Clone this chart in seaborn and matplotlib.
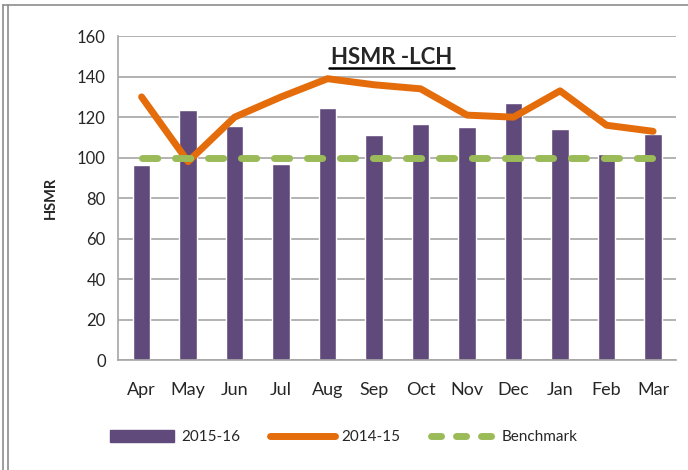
import numpy as np
import pandas as pd
import matplotlib
matplotlib.use("Agg")
import matplotlib.pyplot as plt
import seaborn as sns
from matplotlib.patches import Patch
from matplotlib.lines import Line2D

# VERI #
months = ["Apr", "May", "Jun", "Jul", "Aug", "Sep", "Oct", "Nov", "Dec", "Jan", "Feb", "Mar"]
hsmr_2015_16 = [96.5, 123.5, 115.5, 97, 124.5, 111, 116.5, 115, 127, 114, 102, 111.5]
hsmr_2014_15 = [130, 98, 120, 130, 139, 136, 134, 121, 120, 133, 116, 113]
benchmark = [100] * 12

purple = "#604A7B"
orange = "#E46C0A"
green = "#9BBB59"
grid_gray = "#A6A6A6"

sns.set_style("white")
plt.rcParams['font.family'] = ['Lato', 'DejaVu Sans']

df = pd.DataFrame({"month": months, "y1516": hsmr_2015_16,
                   "y1415": hsmr_2014_15, "bench": benchmark})
df["pos"] = np.arange(len(df))

fig = plt.figure(figsize=(6.88, 4.70), dpi=100)
ax = fig.add_axes([0.172, 0.234, 0.811, 0.689])

sns.barplot(data=df, x="month", y="y1516", color=purple, width=0.38,
            saturation=1, ax=ax, zorder=2)
sns.lineplot(data=df, x="pos", y="y1415", color=orange, linewidth=5,
             sort=False, ax=ax, zorder=3, solid_capstyle="round")
sns.lineplot(data=df, x="pos", y="bench", color=green, linewidth=5,
             sort=False, ax=ax, zorder=4, dashes=False)
ax.lines[-1].set_dashes([2.2, 2.55])
ax.lines[-1].set_dash_capstyle("round")

ax.set_xlim(-0.5, 11.5)
ax.set_ylim(0, 160)
ax.set_yticks(np.arange(0, 161, 20))
ax.yaxis.grid(True, color=grid_gray, linewidth=1.2, zorder=0)
ax.set_axisbelow(True)

ax.set_xticks(np.arange(-0.5, 12, 1), minor=True)
ax.tick_params(axis="x", which="major", length=0, pad=16, labelsize=13)
ax.tick_params(axis="x", which="minor", length=6, color=grid_gray, width=1.2)
ax.tick_params(axis="y", length=5, color=grid_gray, width=1.2, labelsize=12, pad=4)
ax.set_xlabel("")
ax.set_ylabel("HSMR", fontsize=10.5, fontweight="bold", labelpad=14)

for s in ["top", "right"]:
    ax.spines[s].set_visible(False)
for s in ["left", "bottom"]:
    ax.spines[s].set_color(grid_gray)
    ax.spines[s].set_linewidth(1.2)

ax.text(5.37, 146.2, "HSMR -LCH", ha="center", va="baseline", fontsize=16,
        fontweight="bold", zorder=5)
ax.plot([4.03, 6.72], [144.2, 144.2], color="black", linewidth=1.8,
        clip_on=False, zorder=5)

handles = [Patch(facecolor=purple, edgecolor=purple),
           Line2D([0], [0], color=orange, linewidth=5, solid_capstyle="round"),
           Line2D([0], [0], color=green, linewidth=5, dashes=[1.45, 2.15],
                  dash_capstyle="round")]
fig.legend(handles, ["2015-16", "2014-15", "Benchmark"], loc="center",
           bbox_to_anchor=(0.5, 0.07), ncol=3, frameon=False, fontsize=11,
           handlelength=4.2, handleheight=0.9, columnspacing=2.0, handletextpad=0.45)

# cerceve
fig.add_artist(Line2D([0.004, 0.004], [0, 0.99], color="#8C8C8C", linewidth=1.2))
fig.add_artist(Line2D([0.012, 0.012], [0, 0.99], color="#8C8C8C", linewidth=1.2))
fig.add_artist(Line2D([0.004, 1], [0.99, 0.99], color="#8C8C8C", linewidth=1.2))

fig.savefig("out.png", dpi=100)
